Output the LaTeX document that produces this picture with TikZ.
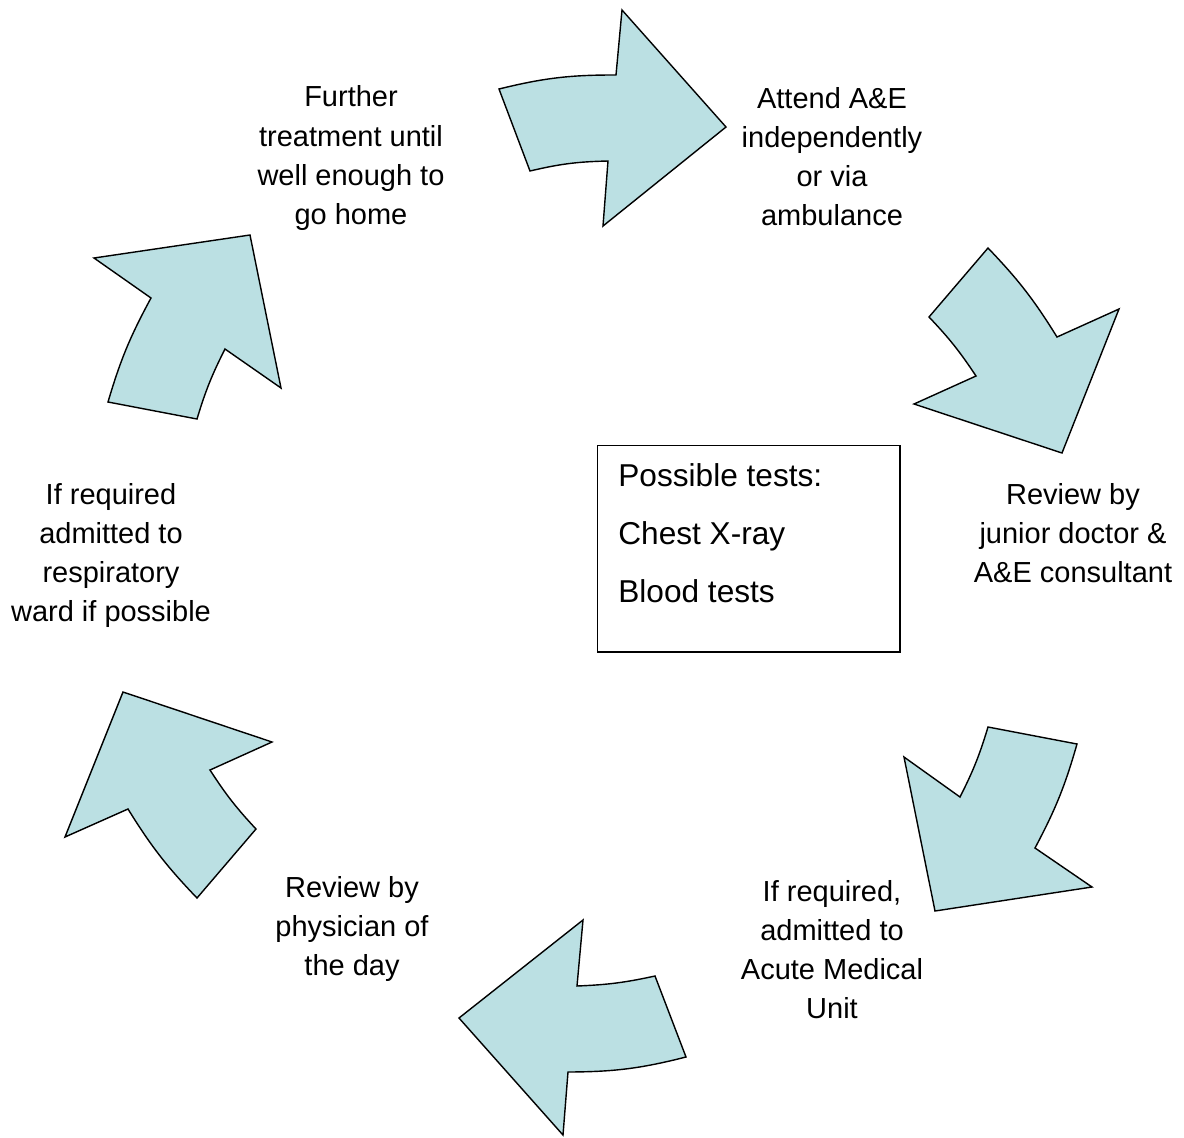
\documentclass[tikz,border=0pt]{standalone}
\usepackage{fontspec}
\setmainfont{Liberation Sans}
\usepackage{xcolor}
\usepackage{tikz}
\usetikzlibrary{positioning}
\definecolor{arrowfill}{HTML}{BBE0E3}

\begin{document}
\begin{tikzpicture}[x=0.02cm, y=0.02cm,
  cyclearrow/.style={draw=black, fill=arrowfill, line width=0.8pt, line join=miter},
  steptext/.style={align=center, inner sep=0pt, font=\fontsize{16.5}{22.2}\selectfont}]
\useasboundingbox (0,0) rectangle (1184,-1137);
% Cycle arrows (clockwise)
\draw[cyclearrow] (499,-89) to[bend left=7] (616,-75) -- (622,-10) -- (726,-127) -- (603,-226) -- (608,-161) to[bend right=6] (530,-171) -- cycle;
\draw[cyclearrow] (988,-248) -- (929,-317) to[bend left=5] (976,-376) -- (914,-404) -- (1062,-453) -- (1119,-309) -- (1057,-337) to[bend right=6] cycle;
\draw[cyclearrow] (988,-727) -- (1077,-744) to[bend left=6] (1035,-848) -- (1092,-887) -- (935,-911) -- (904,-757) -- (960,-797) to[bend right=5] cycle;
\draw[cyclearrow] (583,-920) -- (459,-1018) -- (563,-1135) -- (568,-1072) to[bend right=7] (686,-1057) -- (655,-976) to[bend left=5] (577,-986) -- cycle;
\draw[cyclearrow] (123,-692) -- (272,-742) -- (210,-770) to[bend right=5] (256,-829) -- (197,-898) to[bend left=6] (128,-809) -- (65,-837) -- cycle;
\draw[cyclearrow] (94,-258) -- (250,-235) -- (281,-388) -- (225,-349) to[bend right=5] (197,-419) -- (108,-402) to[bend left=6] (151,-298) -- cycle;
% Steps
\node[steptext] (attend) at (832,-157) {Attend A\&E\\independently\\or via\\ambulance};
\node[steptext] (reviewjr) at (1073,-533) {Review by\\junior doctor \&\\A\&E consultant};
\node[steptext] (amu) at (832,-950) {If required,\\admitted to\\Acute Medical\\Unit};
\node[steptext] (physician) at (352,-929) {Review by\\physician of\\the day};
\node[steptext] (respward) at (111,-555) {If required\\admitted to\\respiratory\\ward if possible};
\node[steptext] (further) at (351,-158) {Further\\treatment until\\well enough to\\go home};
% Tests box
\node[draw, line width=0.6pt, minimum width=6.06cm, minimum height=4.14cm] (testbox) at (748.5,-548.5) {};
\node[anchor=west, align=left, inner sep=0pt, font=\fontsize{18}{33}\selectfont] (tests) at (618,-533) {Possible tests:\\Chest X-ray\\Blood tests};
\end{tikzpicture}
\end{document}
